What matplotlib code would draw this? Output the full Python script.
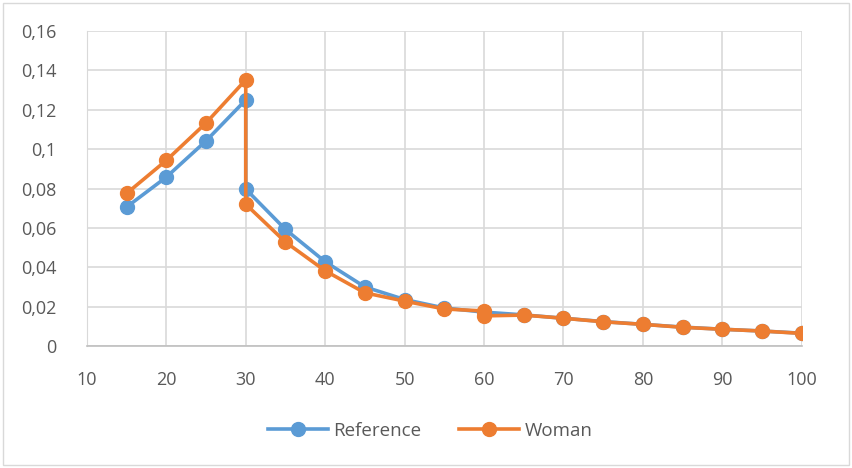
import numpy as np
import matplotlib.pyplot as plt
from matplotlib.patches import Rectangle

# age points (30 and 60 appear twice: the curves jump there)
ref_x = [15, 20, 25, 30, 30, 35, 40, 45, 50, 55, 60, 65, 70, 75, 80, 85, 90, 95, 100]
ref_y = [0.0706, 0.0858, 0.1042, 0.1250, 0.0797, 0.0592, 0.0428, 0.0300, 0.0236, 0.0193,
         0.0172, 0.0158, 0.0141, 0.0124, 0.0110, 0.0096, 0.0085, 0.0076, 0.0065]

woman_x = [15, 20, 25, 30, 30, 35, 40, 45, 50, 55, 60, 60, 65, 70, 75, 80, 85, 90, 95, 100]
woman_y = [0.0775, 0.0943, 0.1133, 0.1352, 0.0720, 0.0528, 0.0382, 0.0270, 0.0228, 0.0188,
           0.0178, 0.0153, 0.0157, 0.0141, 0.0123, 0.0110, 0.0095, 0.0085, 0.0076, 0.0064]

x_ticks = np.arange(10, 101, 10)
y_ticks = np.arange(0, 0.161, 0.02)
y_labels = ["0", "0,02", "0,04", "0,06", "0,08", "0,1", "0,12", "0,14", "0,16"]

blue = "#5B9BD5"
orange = "#ED7D31"
txt = "#595959"

plt.rcParams["font.family"] = ["Open Sans", "DejaVu Sans"]

fig = plt.figure(figsize=(8.52, 4.68), dpi=100)
ax = fig.add_axes([0.102, 0.2607, 0.839, 0.673])

ax.plot(ref_x, ref_y, color=blue, lw=2.6, marker="o", ms=10, label="Reference", zorder=3)
ax.plot(woman_x, woman_y, color=orange, lw=2.6, marker="o", ms=10, label="Woman", zorder=4)

ax.set_xlim(10, 100)
ax.set_ylim(0, 0.16)
ax.set_xticks(x_ticks)
ax.set_xticklabels([str(v) for v in x_ticks])
ax.set_yticks(y_ticks)
ax.set_yticklabels(y_labels)
ax.tick_params(length=0, labelsize=13, colors=txt)
ax.tick_params(axis="x", pad=18)
ax.tick_params(axis="y", pad=22)
ax.grid(True, color="#D9D9D9", lw=1.2)
ax.set_axisbelow(True)
for side in ["top", "right"]:
    ax.spines[side].set_visible(False)
ax.spines["left"].set_color("#D9D9D9")
ax.spines["bottom"].set_color("#BFBFBF")
ax.spines["bottom"].set_linewidth(1.2)

leg = fig.legend(loc="center", bbox_to_anchor=(0.505, 0.08), ncol=2, frameon=False,
                 fontsize=13.5, handlelength=3.2, columnspacing=2.0, handletextpad=0.3)
for t in leg.get_texts():
    t.set_color(txt)

# thin frame around the whole chart
fig.patches.append(Rectangle((0.004, 0.006), 0.992, 0.988, transform=fig.transFigure,
                             fill=False, edgecolor="#D9D9D9", lw=1))

fig.savefig("out.png", dpi=100)
